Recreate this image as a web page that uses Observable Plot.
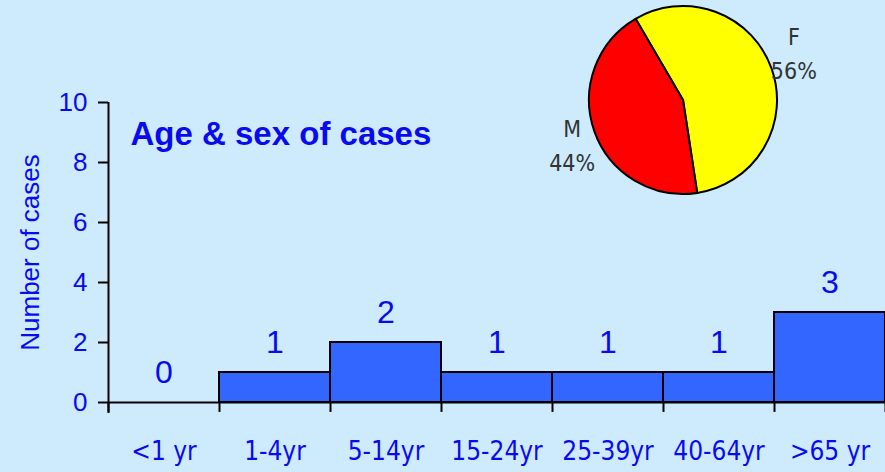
<!DOCTYPE html>
<html>
<head>
<meta charset="utf-8">
<script src="https://cdn.jsdelivr.net/npm/d3@7"></script>
<script src="https://cdn.jsdelivr.net/npm/@observablehq/plot@0.6"></script>
<style>
  html, body { margin: 0; padding: 0; background: #cdebfd; }
  #chart svg { display: block; }
</style>
</head>
<body>
<div id="chart"></div>
<script>
// ---- data ----
const ageGroups = ["<1 yr", "1-4yr", "5-14yr", "15-24yr", "25-39yr", "40-64yr", ">65 yr"];
const caseCounts = [0, 1, 2, 1, 1, 1, 3];
const yTickValues = [0, 2, 4, 6, 8, 10];
const sexLabels = ["F", "M"];
const sexPercents = [56, 44];
const sexColors = ["#ffff00", "#ff0000"];
const chartTitle = "Age & sex of cases";
const yAxisLabel = "Number of cases";

const bars = ageGroups.map((age, i) => ({age, index: i, cases: caseCounts[i]}));
const sexes = sexLabels.map((sex, i) => ({sex, pct: sexPercents[i], color: sexColors[i]}));

const BLUE = "#0a0aee";
const NARROW = "'Liberation Sans Narrow','Arial Narrow','DejaVu Sans Condensed',sans-serif";

// pie drawn as a custom Plot mark
function pieMark(data, {cx, cy, r, startDeg, labelR, labelShiftDeg}) {
  return (index, scales, values, dims) => {
    const start = startDeg * Math.PI / 180;
    const arcs = d3.pie().value(d => d.pct).sort(null)
      .startAngle(start).endAngle(start + 2 * Math.PI)(data);
    const arc = d3.arc().innerRadius(0).outerRadius(r);
    const g = d3.create("svg:g").attr("transform", `translate(${cx},${cy})`);
    g.selectAll("path").data(arcs).join("path")
      .attr("d", arc)
      .attr("fill", d => d.data.color)
      .attr("stroke", "black")
      .attr("stroke-width", 2)
      .attr("stroke-linejoin", "round");
    const pos = d => {
      const a = (d.startAngle + d.endAngle) / 2 + labelShiftDeg * Math.PI / 180;
      return [labelR * Math.sin(a), -labelR * Math.cos(a)];
    };
    const t = g.selectAll("text").data(arcs).join("text")
      .attr("transform", d => `translate(${pos(d)})`)
      .attr("text-anchor", "middle")
      .attr("font-family", NARROW)
      .attr("font-size", 23)
      .attr("fill", "#333");
    t.append("tspan").attr("x", 0).attr("y", -9).text(d => d.data.sex);
    t.append("tspan").attr("x", 0).attr("y", 25).text(d => d.data.pct + "%");
    return g.node();
  };
}

const chart = Plot.plot({
  width: 885,
  height: 472,
  marginLeft: 108,
  marginRight: 0,
  marginTop: 102,
  marginBottom: 70,
  style: {background: "transparent", fontFamily: "'Liberation Sans', Arial, sans-serif", overflow: "visible"},
  x: {type: "linear", domain: [0, 7], axis: null},
  y: {domain: [0, 10], axis: null},
  marks: [
    Plot.rectY(bars, {x1: "index", x2: d => d.index + 1, y: "cases", fill: "#3366ff", stroke: "black", strokeWidth: 2}),
    Plot.ruleY([0], {stroke: "black", strokeWidth: 2}),
    Plot.ruleX([0], {y1: -0.37, y2: 10, stroke: "black", strokeWidth: 2}),
    Plot.ruleX(d3.range(ageGroups.length + 1), {y1: 0, y2: -0.33, stroke: "black", strokeWidth: 2}),
    Plot.axisY({ticks: yTickValues, tickSize: 10, tickPadding: 11, fontSize: 26, fill: BLUE, stroke: "black", strokeWidth: 2, label: null}),
    Plot.axisX({ticks: bars.map(d => d.index + 0.5), tickSize: 0, tickPadding: 39,
      tickFormat: v => ageGroups[Math.floor(v)], fontSize: 26, fill: BLUE, fontFamily: NARROW, label: null}),
    Plot.text(bars, {x: d => d.index + 0.5, y: d => d.cases + 1, text: d => String(d.cases), fontSize: 32, fill: BLUE}),
    Plot.text([chartTitle], {frameAnchor: "top-left", dx: 22, dy: 19, textAnchor: "start", fontSize: 33, fontWeight: "bold", fill: BLUE}),
    Plot.text([yAxisLabel], {frameAnchor: "left", dx: -78, rotate: -90, textAnchor: "middle", fontSize: 26, fill: BLUE}),
    pieMark(sexes, {cx: 683, cy: 100, r: 94, startDeg: -30.3, labelR: 120, labelShiftDeg: -3})
  ]
});
document.getElementById("chart").append(chart);
</script>
</body>
</html>
